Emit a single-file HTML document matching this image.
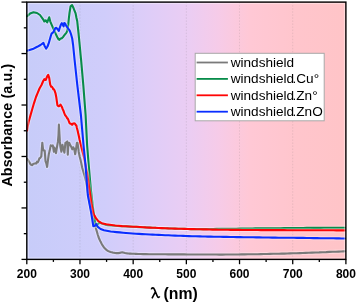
<!DOCTYPE html>
<html><head><meta charset="utf-8"><style>
html,body{margin:0;padding:0;background:#fff;}
svg{display:block;will-change:transform;}
.g{stroke:#707070;stroke-opacity:0.16;stroke-width:1;stroke-dasharray:1.5 1.55;}
.tl{font-family:"Liberation Sans",sans-serif;font-weight:bold;font-size:12px;text-anchor:middle;fill:#000;}
.lg{font-family:"Liberation Sans",sans-serif;font-size:13.6px;fill:#000;}
.h{fill:none;stroke:#fff;stroke-opacity:0.3;stroke-width:4.2;stroke-linejoin:round;stroke-linecap:round;}
.c{fill:none;stroke-width:2.1;stroke-linejoin:round;stroke-linecap:round;}
</style></head><body>
<svg width="357" height="304" viewBox="0 0 357 304">
<defs><linearGradient id="bg" x1="26.8" y1="0" x2="345.9" y2="0" gradientUnits="userSpaceOnUse">
<stop offset="0" stop-color="#c7ccf9"/>
<stop offset="0.245" stop-color="#d0cdfb"/>
<stop offset="0.39" stop-color="#dfcdf8"/>
<stop offset="0.51" stop-color="#ebcdf3"/>
<stop offset="0.60" stop-color="#f6cbe8"/>
<stop offset="0.70" stop-color="#ffc8d5"/>
<stop offset="0.85" stop-color="#ffc5cc"/>
<stop offset="1" stop-color="#ffc4c7"/>
</linearGradient></defs>
<rect x="26.8" y="2.1" width="319.10" height="257.30" fill="url(#bg)"/>
<line x1="79.98" y1="2.1" x2="79.98" y2="258.4" class="g"/><line x1="133.17" y1="2.1" x2="133.17" y2="258.4" class="g"/><line x1="186.35" y1="2.1" x2="186.35" y2="258.4" class="g"/><line x1="239.53" y1="2.1" x2="239.53" y2="258.4" class="g"/><line x1="292.72" y1="2.1" x2="292.72" y2="258.4" class="g"/>
<polyline class="h" points="27.0,158.8 28.1,160.1 28.9,161.5 29.7,162.7 30.5,164.3 31.3,164.8 32.3,165.2 33.1,164.0 33.9,163.8 34.7,163.6 35.5,163.3 36.3,163.5 37.1,161.7 37.9,162.2 38.6,160.6 39.4,158.3 40.2,158.0 41.3,156.4 41.8,149.6 42.3,142.7 43.1,149.6 43.9,150.6 44.7,150.6 45.5,161.2 46.3,163.3 47.1,166.9 48.1,159.1 48.9,153.7 49.7,150.6 50.7,145.4 51.8,145.9 52.8,145.4 53.9,151.7 54.4,147.5 55.0,149.3 56.0,153.2 57.0,146.8 57.9,141.9 58.5,135.0 58.9,124.6 59.4,133.0 59.9,141.9 60.4,146.8 61.4,151.7 62.4,144.8 63.4,148.8 64.4,152.7 65.4,142.9 66.3,142.4 67.3,141.4 67.8,154.7 68.3,143.8 69.3,142.9 70.3,145.3 71.3,146.8 72.3,149.3 73.2,147.3 74.2,148.8 75.2,154.2 76.2,147.8 76.9,142.9 77.7,142.9 78.7,151.7 79.7,156.7 80.7,160.6 82.3,168.0 84.4,175.1 86.2,182.0 87.8,192.0 89.5,202.0 91.5,212.0 93.5,220.0 94.5,223.7 95.5,227.0 96.3,229.6 97.0,232.0 97.7,234.5 98.5,237.0 99.4,239.3 100.5,241.6 101.5,243.5 102.6,245.4 103.8,247.2 104.8,248.3 105.9,249.4 107.1,250.3 108.3,251.1 109.4,251.6 110.5,252.0 111.7,252.3 112.8,252.6 113.9,252.8 115.1,253.0 116.3,253.1 117.3,253.1 118.4,253.1 119.7,252.9 120.9,252.5 122.3,252.4 123.2,252.5 124.1,252.7 125.1,253.0 126.1,253.2 127.4,253.4 128.4,253.5 129.5,253.6 130.7,253.6 132.0,253.7 133.3,253.8 134.4,253.8 135.3,253.9 136.0,253.9 138.2,254.0 140.5,254.0 143.2,254.1 146.0,254.1 149.2,254.2 152.5,254.2 156.1,254.3 160.0,254.3 162.6,254.3 165.3,254.3 168.2,254.4 171.3,254.4 174.4,254.4 177.7,254.4 181.0,254.4 184.3,254.4 187.5,254.5 190.8,254.5 194.0,254.5 197.0,254.5 200.0,254.5 203.4,254.5 206.7,254.5 209.9,254.5 213.1,254.5 216.2,254.5 219.4,254.6 222.5,254.6 225.6,254.5 228.7,254.5 231.8,254.5 235.0,254.5 238.2,254.5 241.4,254.4 244.7,254.4 247.9,254.3 251.2,254.3 254.4,254.2 257.6,254.2 260.8,254.1 263.9,254.0 267.0,254.0 270.0,253.9 273.1,253.8 276.1,253.8 278.9,253.7 281.6,253.6 284.4,253.6 287.2,253.5 290.1,253.4 293.1,253.3 296.4,253.2 300.0,253.1 302.7,253.0 305.6,252.9 308.8,252.8 312.1,252.6 315.6,252.5 319.1,252.4 322.6,252.2 326.1,252.1 329.5,251.9 332.8,251.8 335.8,251.7 338.6,251.6 341.1,251.5 343.3,251.4 345.0,251.3"/>
<polyline class="c" stroke="#7a7a7a" stroke-width="2.3" points="27.0,158.8 28.1,160.1 28.9,161.5 29.7,162.7 30.5,164.3 31.3,164.8 32.3,165.2 33.1,164.0 33.9,163.8 34.7,163.6 35.5,163.3 36.3,163.5 37.1,161.7 37.9,162.2 38.6,160.6 39.4,158.3 40.2,158.0 41.3,156.4 41.8,149.6 42.3,142.7 43.1,149.6 43.9,150.6 44.7,150.6 45.5,161.2 46.3,163.3 47.1,166.9 48.1,159.1 48.9,153.7 49.7,150.6 50.7,145.4 51.8,145.9 52.8,145.4 53.9,151.7 54.4,147.5 55.0,149.3 56.0,153.2 57.0,146.8 57.9,141.9 58.5,135.0 58.9,124.6 59.4,133.0 59.9,141.9 60.4,146.8 61.4,151.7 62.4,144.8 63.4,148.8 64.4,152.7 65.4,142.9 66.3,142.4 67.3,141.4 67.8,154.7 68.3,143.8 69.3,142.9 70.3,145.3 71.3,146.8 72.3,149.3 73.2,147.3 74.2,148.8 75.2,154.2 76.2,147.8 76.9,142.9 77.7,142.9 78.7,151.7 79.7,156.7 80.7,160.6 82.3,168.0 84.4,175.1 86.2,182.0 87.8,192.0 89.5,202.0 91.5,212.0 93.5,220.0 94.5,223.7 95.5,227.0 96.3,229.6 97.0,232.0 97.7,234.5 98.5,237.0 99.4,239.3 100.5,241.6 101.5,243.5 102.6,245.4 103.8,247.2 104.8,248.3 105.9,249.4 107.1,250.3 108.3,251.1 109.4,251.6 110.5,252.0 111.7,252.3 112.8,252.6 113.9,252.8 115.1,253.0 116.3,253.1 117.3,253.1 118.4,253.1 119.7,252.9 120.9,252.5 122.3,252.4 123.2,252.5 124.1,252.7 125.1,253.0 126.1,253.2 127.4,253.4 128.4,253.5 129.5,253.6 130.7,253.6 132.0,253.7 133.3,253.8 134.4,253.8 135.3,253.9 136.0,253.9 138.2,254.0 140.5,254.0 143.2,254.1 146.0,254.1 149.2,254.2 152.5,254.2 156.1,254.3 160.0,254.3 162.6,254.3 165.3,254.3 168.2,254.4 171.3,254.4 174.4,254.4 177.7,254.4 181.0,254.4 184.3,254.4 187.5,254.5 190.8,254.5 194.0,254.5 197.0,254.5 200.0,254.5 203.4,254.5 206.7,254.5 209.9,254.5 213.1,254.5 216.2,254.5 219.4,254.6 222.5,254.6 225.6,254.5 228.7,254.5 231.8,254.5 235.0,254.5 238.2,254.5 241.4,254.4 244.7,254.4 247.9,254.3 251.2,254.3 254.4,254.2 257.6,254.2 260.8,254.1 263.9,254.0 267.0,254.0 270.0,253.9 273.1,253.8 276.1,253.8 278.9,253.7 281.6,253.6 284.4,253.6 287.2,253.5 290.1,253.4 293.1,253.3 296.4,253.2 300.0,253.1 302.7,253.0 305.6,252.9 308.8,252.8 312.1,252.6 315.6,252.5 319.1,252.4 322.6,252.2 326.1,252.1 329.5,251.9 332.8,251.8 335.8,251.7 338.6,251.6 341.1,251.5 343.3,251.4 345.0,251.3"/>
<polyline class="h" points="27.1,16.2 30.0,13.6 33.5,12.3 37.0,13.0 40.0,15.0 43.3,19.6 44.3,21.5 45.7,20.3 47.2,22.3 49.2,17.3 50.2,21.3 51.7,24.8 53.9,29.8 55.6,33.6 57.2,37.0 58.6,39.4 59.4,39.8 60.3,38.7 61.8,38.2 63.3,36.7 64.8,34.7 66.3,32.8 67.2,31.3 68.2,24.9 68.9,18.0 69.5,13.0 70.6,6.2 72.0,5.0 73.4,7.8 74.5,10.6 75.6,13.4 76.5,18.0 77.2,21.0 78.5,33.2 79.8,46.3 80.6,55.0 81.1,60.0 83.3,85.0 85.6,115.0 87.1,145.0 88.7,165.0 90.9,190.0 93.0,208.0 94.0,214.5 95.0,221.2 96.1,225.7 98.3,223.4 100.0,222.8 101.9,223.6 105.0,224.6 107.8,225.1 111.1,225.5 115.0,225.8 117.6,226.0 120.4,226.1 123.4,226.3 126.6,226.4 130.0,226.6 133.0,226.8 136.1,226.9 139.4,227.1 142.8,227.3 146.3,227.4 150.0,227.6 152.9,227.7 156.0,227.9 159.2,228.0 162.5,228.1 165.8,228.3 169.0,228.4 172.1,228.5 175.0,228.6 178.6,228.7 181.9,228.8 185.0,228.9 188.1,229.0 191.4,229.1 195.0,229.1 197.9,229.1 200.8,229.1 203.8,229.1 206.9,229.1 210.0,229.0 213.3,229.0 216.6,228.9 220.0,228.9 222.7,228.9 225.4,228.8 228.0,228.8 230.7,228.8 233.4,228.7 236.3,228.7 239.4,228.6 242.6,228.6 246.2,228.5 250.0,228.5 252.6,228.5 255.3,228.4 258.2,228.4 261.2,228.4 264.3,228.3 267.5,228.3 270.8,228.3 274.1,228.2 277.4,228.2 280.7,228.2 284.1,228.1 287.4,228.1 290.6,228.1 293.9,228.1 297.0,228.0 300.0,228.0 303.2,228.0 306.6,227.9 310.0,227.9 313.5,227.9 317.0,227.9 320.5,227.9 323.9,227.8 327.3,227.8 330.5,227.8 333.5,227.8 336.4,227.8 339.0,227.7 341.3,227.7 343.3,227.7 345.0,227.7"/>
<polyline class="c" stroke="#088c4a" points="27.1,16.2 30.0,13.6 33.5,12.3 37.0,13.0 40.0,15.0 43.3,19.6 44.3,21.5 45.7,20.3 47.2,22.3 49.2,17.3 50.2,21.3 51.7,24.8 53.9,29.8 55.6,33.6 57.2,37.0 58.6,39.4 59.4,39.8 60.3,38.7 61.8,38.2 63.3,36.7 64.8,34.7 66.3,32.8 67.2,31.3 68.2,24.9 68.9,18.0 69.5,13.0 70.6,6.2 72.0,5.0 73.4,7.8 74.5,10.6 75.6,13.4 76.5,18.0 77.2,21.0 78.5,33.2 79.8,46.3 80.6,55.0 81.1,60.0 83.3,85.0 85.6,115.0 87.1,145.0 88.7,165.0 90.9,190.0 93.0,208.0 94.0,214.5 95.0,221.2 96.1,225.7 98.3,223.4 100.0,222.8 101.9,223.6 105.0,224.6 107.8,225.1 111.1,225.5 115.0,225.8 117.6,226.0 120.4,226.1 123.4,226.3 126.6,226.4 130.0,226.6 133.0,226.8 136.1,226.9 139.4,227.1 142.8,227.3 146.3,227.4 150.0,227.6 152.9,227.7 156.0,227.9 159.2,228.0 162.5,228.1 165.8,228.3 169.0,228.4 172.1,228.5 175.0,228.6 178.6,228.7 181.9,228.8 185.0,228.9 188.1,229.0 191.4,229.1 195.0,229.1 197.9,229.1 200.8,229.1 203.8,229.1 206.9,229.1 210.0,229.0 213.3,229.0 216.6,228.9 220.0,228.9 222.7,228.9 225.4,228.8 228.0,228.8 230.7,228.8 233.4,228.7 236.3,228.7 239.4,228.6 242.6,228.6 246.2,228.5 250.0,228.5 252.6,228.5 255.3,228.4 258.2,228.4 261.2,228.4 264.3,228.3 267.5,228.3 270.8,228.3 274.1,228.2 277.4,228.2 280.7,228.2 284.1,228.1 287.4,228.1 290.6,228.1 293.9,228.1 297.0,228.0 300.0,228.0 303.2,228.0 306.6,227.9 310.0,227.9 313.5,227.9 317.0,227.9 320.5,227.9 323.9,227.8 327.3,227.8 330.5,227.8 333.5,227.8 336.4,227.8 339.0,227.7 341.3,227.7 343.3,227.7 345.0,227.7"/>
<polyline class="h" points="27.1,130.5 27.7,126.5 28.6,122.0 30.4,115.6 32.0,110.0 34.1,102.8 36.0,97.0 37.8,92.6 39.5,88.5 41.5,85.0 43.2,81.0 44.3,79.2 45.7,80.0 47.3,76.2 48.2,74.9 49.2,77.9 50.2,84.6 51.2,86.8 52.0,86.9 52.7,87.8 53.3,89.3 54.0,89.3 54.6,90.7 55.6,93.7 56.3,97.3 57.4,105.2 58.5,106.3 59.2,106.3 59.9,105.2 60.6,104.6 61.2,105.9 61.9,106.8 62.7,109.2 63.5,110.8 64.2,112.9 65.0,115.0 65.7,115.8 66.5,116.8 67.2,118.4 67.8,118.6 68.4,120.0 69.1,122.0 69.7,123.3 70.4,123.7 71.0,123.7 71.7,124.6 72.3,124.8 73.0,123.6 73.7,123.5 74.3,123.3 75.0,123.7 75.6,124.8 76.3,125.3 76.9,128.0 77.6,130.5 78.3,133.7 78.9,136.3 79.6,139.7 81.5,147.6 84.2,158.1 85.7,166.0 87.2,174.0 89.5,190.0 91.5,204.0 93.4,213.5 94.4,215.6 96.1,218.4 98.3,221.2 101.7,223.2 106.2,224.3 115.1,225.5 118.5,225.8 122.1,226.1 126.0,226.3 129.4,226.5 133.1,226.7 136.7,226.8 140.0,227.0 143.1,227.2 145.7,227.4 150.0,227.6 152.4,227.7 155.2,227.8 158.3,228.0 161.6,228.1 165.0,228.2 168.4,228.4 171.8,228.5 175.0,228.6 178.1,228.7 181.2,228.8 184.4,228.9 187.5,229.0 190.6,229.1 193.8,229.1 196.9,229.2 200.0,229.3 203.1,229.4 206.2,229.4 209.4,229.5 212.5,229.6 215.6,229.6 218.8,229.7 221.9,229.8 225.0,229.8 228.0,229.8 230.7,229.9 233.3,229.9 235.9,229.9 238.8,229.9 242.0,230.0 245.7,230.0 250.0,230.0 252.4,230.0 255.1,230.0 257.9,230.0 260.9,230.1 263.9,230.1 267.1,230.1 270.4,230.1 273.8,230.1 277.1,230.1 280.5,230.1 283.9,230.1 287.3,230.2 290.6,230.2 293.8,230.2 297.0,230.2 300.0,230.2 303.2,230.2 306.6,230.2 310.0,230.2 313.5,230.3 317.0,230.3 320.5,230.3 323.9,230.3 327.3,230.3 330.5,230.3 333.5,230.3 336.4,230.4 339.0,230.4 341.3,230.4 343.3,230.4 345.0,230.4"/>
<polyline class="c" stroke="#ff0505" points="27.1,130.5 27.7,126.5 28.6,122.0 30.4,115.6 32.0,110.0 34.1,102.8 36.0,97.0 37.8,92.6 39.5,88.5 41.5,85.0 43.2,81.0 44.3,79.2 45.7,80.0 47.3,76.2 48.2,74.9 49.2,77.9 50.2,84.6 51.2,86.8 52.0,86.9 52.7,87.8 53.3,89.3 54.0,89.3 54.6,90.7 55.6,93.7 56.3,97.3 57.4,105.2 58.5,106.3 59.2,106.3 59.9,105.2 60.6,104.6 61.2,105.9 61.9,106.8 62.7,109.2 63.5,110.8 64.2,112.9 65.0,115.0 65.7,115.8 66.5,116.8 67.2,118.4 67.8,118.6 68.4,120.0 69.1,122.0 69.7,123.3 70.4,123.7 71.0,123.7 71.7,124.6 72.3,124.8 73.0,123.6 73.7,123.5 74.3,123.3 75.0,123.7 75.6,124.8 76.3,125.3 76.9,128.0 77.6,130.5 78.3,133.7 78.9,136.3 79.6,139.7 81.5,147.6 84.2,158.1 85.7,166.0 87.2,174.0 89.5,190.0 91.5,204.0 93.4,213.5 94.4,215.6 96.1,218.4 98.3,221.2 101.7,223.2 106.2,224.3 115.1,225.5 118.5,225.8 122.1,226.1 126.0,226.3 129.4,226.5 133.1,226.7 136.7,226.8 140.0,227.0 143.1,227.2 145.7,227.4 150.0,227.6 152.4,227.7 155.2,227.8 158.3,228.0 161.6,228.1 165.0,228.2 168.4,228.4 171.8,228.5 175.0,228.6 178.1,228.7 181.2,228.8 184.4,228.9 187.5,229.0 190.6,229.1 193.8,229.1 196.9,229.2 200.0,229.3 203.1,229.4 206.2,229.4 209.4,229.5 212.5,229.6 215.6,229.6 218.8,229.7 221.9,229.8 225.0,229.8 228.0,229.8 230.7,229.9 233.3,229.9 235.9,229.9 238.8,229.9 242.0,230.0 245.7,230.0 250.0,230.0 252.4,230.0 255.1,230.0 257.9,230.0 260.9,230.1 263.9,230.1 267.1,230.1 270.4,230.1 273.8,230.1 277.1,230.1 280.5,230.1 283.9,230.1 287.3,230.2 290.6,230.2 293.8,230.2 297.0,230.2 300.0,230.2 303.2,230.2 306.6,230.2 310.0,230.2 313.5,230.3 317.0,230.3 320.5,230.3 323.9,230.3 327.3,230.3 330.5,230.3 333.5,230.3 336.4,230.4 339.0,230.4 341.3,230.4 343.3,230.4 345.0,230.4"/>
<polyline class="h" points="27.1,50.8 32.7,49.1 37.2,46.8 40.5,45.0 43.4,42.9 44.5,45.7 46.1,48.6 47.5,46.5 48.6,43.7 49.8,39.5 50.8,36.0 51.6,33.6 53.4,32.2 54.3,30.2 55.4,28.0 56.4,27.9 57.6,29.2 58.8,31.0 59.9,27.3 60.9,24.6 61.8,23.2 62.8,24.8 63.6,26.4 64.2,23.1 65.1,23.4 66.4,26.1 67.8,28.0 69.7,30.7 71.1,34.4 72.2,38.5 73.1,45.0 73.7,51.0 74.6,60.0 77.3,85.0 80.9,115.0 83.5,145.0 85.5,165.0 87.8,195.0 91.1,212.4 92.2,219.0 93.3,226.2 95.0,225.7 96.1,224.0 97.8,226.8 100.6,229.0 104.0,230.2 110.6,231.5 113.2,231.8 116.4,232.1 119.8,232.4 123.1,232.7 126.0,233.0 129.6,233.3 132.6,233.5 136.0,233.7 139.0,233.9 142.1,234.1 145.6,234.3 150.0,234.5 152.6,234.6 155.5,234.8 158.6,234.9 161.8,235.0 165.1,235.2 168.5,235.3 171.8,235.5 175.0,235.6 178.0,235.7 180.7,235.8 183.3,235.9 185.9,236.0 188.8,236.1 192.0,236.2 195.7,236.3 200.0,236.4 202.4,236.5 205.1,236.5 207.8,236.6 210.7,236.6 213.8,236.7 216.9,236.7 220.1,236.8 223.4,236.9 226.8,236.9 230.2,237.0 233.5,237.0 236.9,237.1 240.3,237.1 243.6,237.2 246.8,237.3 250.0,237.3 253.1,237.3 256.3,237.4 259.4,237.4 262.6,237.5 265.8,237.5 269.0,237.5 272.1,237.6 275.3,237.6 278.5,237.7 281.6,237.7 284.7,237.7 287.9,237.8 290.9,237.8 294.0,237.8 297.0,237.9 300.0,237.9 303.2,237.9 306.6,238.0 310.0,238.0 313.5,238.1 317.0,238.1 320.5,238.2 323.9,238.2 327.3,238.3 330.5,238.3 333.5,238.3 336.4,238.4 339.0,238.4 341.3,238.5 343.3,238.5 345.0,238.5"/>
<polyline class="c" stroke="#0a2eff" points="27.1,50.8 32.7,49.1 37.2,46.8 40.5,45.0 43.4,42.9 44.5,45.7 46.1,48.6 47.5,46.5 48.6,43.7 49.8,39.5 50.8,36.0 51.6,33.6 53.4,32.2 54.3,30.2 55.4,28.0 56.4,27.9 57.6,29.2 58.8,31.0 59.9,27.3 60.9,24.6 61.8,23.2 62.8,24.8 63.6,26.4 64.2,23.1 65.1,23.4 66.4,26.1 67.8,28.0 69.7,30.7 71.1,34.4 72.2,38.5 73.1,45.0 73.7,51.0 74.6,60.0 77.3,85.0 80.9,115.0 83.5,145.0 85.5,165.0 87.8,195.0 91.1,212.4 92.2,219.0 93.3,226.2 95.0,225.7 96.1,224.0 97.8,226.8 100.6,229.0 104.0,230.2 110.6,231.5 113.2,231.8 116.4,232.1 119.8,232.4 123.1,232.7 126.0,233.0 129.6,233.3 132.6,233.5 136.0,233.7 139.0,233.9 142.1,234.1 145.6,234.3 150.0,234.5 152.6,234.6 155.5,234.8 158.6,234.9 161.8,235.0 165.1,235.2 168.5,235.3 171.8,235.5 175.0,235.6 178.0,235.7 180.7,235.8 183.3,235.9 185.9,236.0 188.8,236.1 192.0,236.2 195.7,236.3 200.0,236.4 202.4,236.5 205.1,236.5 207.8,236.6 210.7,236.6 213.8,236.7 216.9,236.7 220.1,236.8 223.4,236.9 226.8,236.9 230.2,237.0 233.5,237.0 236.9,237.1 240.3,237.1 243.6,237.2 246.8,237.3 250.0,237.3 253.1,237.3 256.3,237.4 259.4,237.4 262.6,237.5 265.8,237.5 269.0,237.5 272.1,237.6 275.3,237.6 278.5,237.7 281.6,237.7 284.7,237.7 287.9,237.8 290.9,237.8 294.0,237.8 297.0,237.9 300.0,237.9 303.2,237.9 306.6,238.0 310.0,238.0 313.5,238.1 317.0,238.1 320.5,238.2 323.9,238.2 327.3,238.3 330.5,238.3 333.5,238.3 336.4,238.4 339.0,238.4 341.3,238.5 343.3,238.5 345.0,238.5"/>
<g stroke="#fff" stroke-opacity="0.4" stroke-width="1"><line x1="28.3" y1="3.6" x2="28.3" y2="258"/><line x1="28.3" y1="3.6" x2="344.4" y2="3.6"/><line x1="344.4" y1="3.6" x2="344.4" y2="258"/><line x1="28.3" y1="258" x2="344.4" y2="258"/></g>
<rect x="195.2" y="53.3" width="129" height="67.5" fill="#fff" stroke="#a8a8a8" stroke-width="1"/>
<line x1="196.6" y1="62.5" x2="227.9" y2="62.5" stroke="#7a7a7a" stroke-width="1.8"/><text x="230.7" y="67.0" class="lg">windshield</text><line x1="196.6" y1="78.9" x2="227.9" y2="78.9" stroke="#088c4a" stroke-width="1.8"/><text x="230.7" y="83.4" class="lg">windshield<tspan dx="-1.7">.</tspan>Cu°</text><line x1="196.6" y1="95.3" x2="227.9" y2="95.3" stroke="#ff0505" stroke-width="1.8"/><text x="230.7" y="99.8" class="lg">windshield<tspan dx="-1.7">.</tspan>Zn°</text><line x1="196.6" y1="111.7" x2="227.9" y2="111.7" stroke="#0a2eff" stroke-width="1.8"/><text x="230.7" y="116.2" class="lg">windshield<tspan dx="-1.7">.</tspan>ZnO</text>
<rect x="26.8" y="2.1" width="319.10" height="257.30" fill="none" stroke="#000" stroke-width="1.4"/>
<g stroke="#000" stroke-width="1.3"><line x1="26.80" y1="259.40" x2="26.80" y2="264.20"/><line x1="53.39" y1="259.40" x2="53.39" y2="261.90"/><line x1="79.98" y1="259.40" x2="79.98" y2="264.20"/><line x1="106.57" y1="259.40" x2="106.57" y2="261.90"/><line x1="133.17" y1="259.40" x2="133.17" y2="264.20"/><line x1="159.76" y1="259.40" x2="159.76" y2="261.90"/><line x1="186.35" y1="259.40" x2="186.35" y2="264.20"/><line x1="212.94" y1="259.40" x2="212.94" y2="261.90"/><line x1="239.53" y1="259.40" x2="239.53" y2="264.20"/><line x1="266.12" y1="259.40" x2="266.12" y2="261.90"/><line x1="292.72" y1="259.40" x2="292.72" y2="264.20"/><line x1="319.31" y1="259.40" x2="319.31" y2="261.90"/><line x1="345.90" y1="259.40" x2="345.90" y2="264.20"/><line x1="26.80" y1="2.10" x2="21.50" y2="2.10"/><line x1="26.80" y1="27.83" x2="23.80" y2="27.83"/><line x1="26.80" y1="53.56" x2="21.50" y2="53.56"/><line x1="26.80" y1="79.29" x2="23.80" y2="79.29"/><line x1="26.80" y1="105.02" x2="21.50" y2="105.02"/><line x1="26.80" y1="130.75" x2="23.80" y2="130.75"/><line x1="26.80" y1="156.48" x2="21.50" y2="156.48"/><line x1="26.80" y1="182.21" x2="23.80" y2="182.21"/><line x1="26.80" y1="207.94" x2="21.50" y2="207.94"/><line x1="26.80" y1="233.67" x2="23.80" y2="233.67"/><line x1="26.80" y1="259.40" x2="21.50" y2="259.40"/></g>
<text x="26.80" y="277.5" class="tl">200</text><text x="79.98" y="277.5" class="tl">300</text><text x="133.17" y="277.5" class="tl">400</text><text x="186.35" y="277.5" class="tl">500</text><text x="239.53" y="277.5" class="tl">600</text><text x="292.72" y="277.5" class="tl">700</text><text x="345.90" y="277.5" class="tl">800</text>
<text transform="translate(12.2,125.1) rotate(-90)" text-anchor="middle" style="font-family:'Liberation Sans',sans-serif;font-weight:bold;font-size:14.3px;letter-spacing:0.13px;">Absorbance (a.u.)</text>
<path d="M151.3,289.4 C151.8,287.5 153.7,287.3 154.4,289.4 L157.3,296.2 C157.9,297.7 158.9,297.7 159.7,296.4 M155.1,292.4 L152,298.3" fill="none" stroke="#000" stroke-width="1.6"/>
<text x="163.6" y="298.8" style="font-family:'Liberation Sans',sans-serif;font-weight:bold;font-size:15.8px;">(nm)</text>
</svg>
</body></html>
